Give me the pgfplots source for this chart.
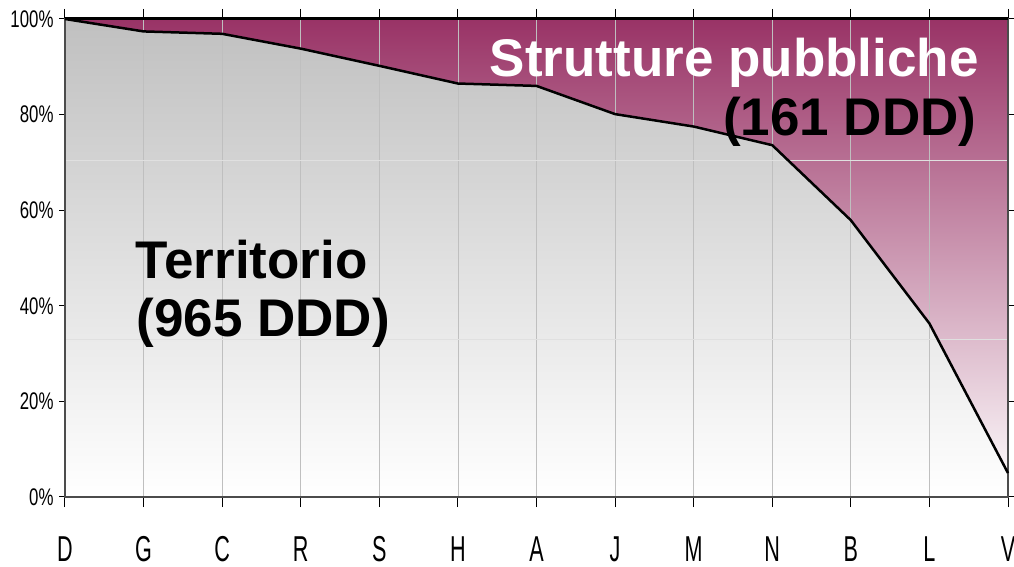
\documentclass[border=0pt]{standalone}
\usepackage{fontspec}
\setmainfont{Liberation Sans}
\newfontfamily\xnarrow[FakeStretch=0.60]{Liberation Sans}
\newfontfamily\ynarrow[FakeStretch=0.70]{Liberation Sans}
\usepackage{pgfplots}
\pgfplotsset{compat=1.18}
\definecolor{plum}{RGB}{153,51,102}
\definecolor{plummid}{RGB}{224,204,212}
\definecolor{grtop}{RGB}{192,192,192}
\begin{document}
\begin{tikzpicture}
\begin{axis}[
  name=ax,
  set layers,
  scale only axis,
  width=943pt, height=478pt,
  xmin=0, xmax=12, ymin=0, ymax=100,
  xtick={0,1,2,3,4,5,6,7,8,9,10,11,12},
  xticklabels={D,G,C,R,S,H,A,J,M,N,B,L,V},
  ytick={0,20,40,60,80,100},
  yticklabels={0\%,20\%,40\%,60\%,80\%,100\%},
  tick align=outside,
  major tick length=6pt,
  tick style={black, line width=1pt},
  x tick style={/pgfplots/major tick length=10pt},
  xticklabel style={font=\xnarrow\fontsize{36}{40}\selectfont, inner sep=0pt, text height=25.5pt, text depth=0pt, anchor=north, yshift=-33pt},
  yticklabel style={font=\ynarrow\fontsize{24}{28}\selectfont, xshift=-2pt},
  xmajorgrids,
  major x grid style={color=black!25, line width=0.8pt},
  extra y ticks={33,70.5},
  extra y tick labels={},
  extra y tick style={grid=major, major tick length=0pt, major grid style={color=black!12, line width=0.8pt}},
  axis line style={line width=1.5pt, draw=black!70},
  clip=false,
]
% upper area (Strutture pubbliche) background
\addplot[on layer=axis background, draw=none, top color=plum, middle color=plummid, bottom color=white]
  coordinates {(0,0) (0,100) (12,100) (12,0)} \closedcycle;
% lower area (Territorio)
\addplot[on layer=axis background, draw=none, top color=grtop, bottom color=white]
  coordinates {(0,100) (1,97.4) (2,96.9) (3,93.8) (4,90.2) (5,86.5) (6,86.0) (7,80.1) (8,77.5) (9,73.6) (10,57.9) (11,36.3) (12,5.0)} \closedcycle;
% boundary line
\addplot[black, line width=2.5pt, line join=round]
  coordinates {(0,100) (1,97.4) (2,96.9) (3,93.8) (4,90.2) (5,86.5) (6,86.0) (7,80.1) (8,77.5) (9,73.6) (10,57.9) (11,36.3) (12,5.0)};
% top edge (100%)
\addplot[black, line width=3pt] coordinates {(0,100) (12,100)};
\node[anchor=base east, inner sep=0pt, text=white, font=\bfseries\fontsize{53}{58}\selectfont] at (axis cs:11.63,87.9) {Strutture pubbliche};
\node[anchor=base east, inner sep=0pt, text=black, font=\bfseries\fontsize{53}{58}\selectfont] at (axis cs:11.6,75.7) {(161 DDD)};
\node[anchor=base west, inner sep=0pt, text=black, font=\bfseries\fontsize{53}{58}\selectfont] at (axis cs:0.9,45.8) {Territorio};
\node[anchor=base west, inner sep=0pt, text=black, font=\bfseries\fontsize{53}{58}\selectfont] at (axis cs:0.91,33.5) {(965 DDD)};
\end{axis}
\pgfresetboundingbox
\useasboundingbox ([xshift=-65pt,yshift=-70pt]ax.south west) rectangle ([xshift=6pt,yshift=19pt]ax.north east);
\end{tikzpicture}
\end{document}
